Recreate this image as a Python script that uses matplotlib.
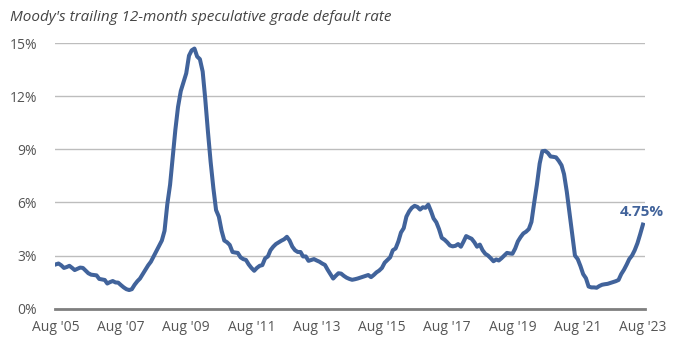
import matplotlib.pyplot as plt
import pandas as pd

# Moody's trailing 12-month speculative grade default rate (%), monthly from Aug 2005
default_rate = [
    2.50, 2.55, 2.45, 2.30, 2.35,                                      # 2005 Aug-Dec
    2.42, 2.30, 2.18, 2.25, 2.32, 2.30, 2.15, 2.00, 1.92, 1.90, 1.88, 1.68,  # 2006
    1.65, 1.62, 1.42, 1.50, 1.56, 1.48, 1.47, 1.33, 1.20, 1.10, 1.05, 1.10,  # 2007
    1.35, 1.55, 1.70, 1.95, 2.20, 2.45, 2.65, 2.95, 3.25, 3.55, 3.85, 4.40,  # 2008
    5.90, 7.00, 8.50, 10.1, 11.4, 12.3, 12.8, 13.3, 14.3, 14.6, 14.7, 14.25,  # 2009
    14.1, 13.4, 11.9, 10.0, 8.30, 6.80, 5.57, 5.20, 4.40, 3.85, 3.75, 3.60,  # 2010
    3.20, 3.17, 3.15, 2.90, 2.80, 2.75, 2.50, 2.30, 2.14, 2.30, 2.42, 2.46,  # 2011
    2.84, 2.95, 3.30, 3.50, 3.65, 3.75, 3.84, 3.92, 4.06, 3.85, 3.50, 3.30,  # 2012
    3.20, 3.20, 2.95, 2.95, 2.70, 2.75, 2.80, 2.72, 2.65, 2.55, 2.47, 2.20,  # 2013
    1.95, 1.70, 1.85, 2.00, 1.98, 1.85, 1.75, 1.68, 1.63, 1.66, 1.70, 1.75,  # 2014
    1.80, 1.85, 1.90, 1.78, 1.90, 2.05, 2.15, 2.30, 2.60, 2.75, 2.90, 3.30,  # 2015
    3.40, 3.80, 4.30, 4.55, 5.20, 5.50, 5.70, 5.81, 5.75, 5.60, 5.73, 5.70,  # 2016
    5.88, 5.50, 5.10, 4.88, 4.50, 4.00, 3.90, 3.75, 3.57, 3.52, 3.55, 3.65,  # 2017
    3.50, 3.80, 4.10, 4.02, 3.95, 3.75, 3.50, 3.62, 3.30, 3.10, 3.00, 2.85,  # 2018
    2.68, 2.78, 2.72, 2.85, 3.00, 3.15, 3.12, 3.10, 3.40, 3.80, 4.05, 4.25,  # 2019
    4.35, 4.50, 4.90, 6.00, 7.00, 8.20, 8.90, 8.92, 8.80, 8.60, 8.58, 8.55,  # 2020
    8.35, 8.10, 7.60, 6.60, 5.40, 4.20, 3.00, 2.80, 2.40, 1.95, 1.72, 1.25,  # 2021
    1.20, 1.20, 1.18, 1.28, 1.35, 1.38, 1.40, 1.45, 1.50, 1.55, 1.62, 1.95,  # 2022
    2.20, 2.50, 2.80, 3.00, 3.30, 3.70, 4.20, 4.75,                     # 2023 to Aug
]
dates = pd.date_range("2005-08-01", periods=len(default_rate), freq="MS")

tick_years = list(range(2005, 2024, 2))
tick_labels = ["Aug '%02d" % (y % 100) for y in tick_years]
y_ticks = [0, 3, 6, 9, 12, 15]
last_label = "4.75%"

line_color = "#41639B"
text_color = "#555555"

plt.rcParams["font.family"] = ["Open Sans", "DejaVu Sans"]

fig = plt.figure(figsize=(7, 3.46), dpi=100)
ax = fig.add_axes([0.079, 0.108, 0.842, 0.767])

ax.plot(dates, default_rate, color=line_color, linewidth=2.9, solid_joinstyle="round")

ax.set_ylim(0, 15)
ax.set_xlim(dates[0] - pd.Timedelta(days=5), dates[-1] + pd.Timedelta(days=20))
ax.set_yticks(y_ticks)
ax.set_yticklabels(["%d%%" % v for v in y_ticks])
ax.set_xticks([pd.Timestamp("%d-08-01" % y) for y in tick_years])
ax.set_xticklabels(tick_labels)
ax.tick_params(axis="both", length=0, labelsize=10, colors=text_color)
ax.tick_params(axis="y", pad=13)
ax.tick_params(axis="x", pad=8)

ax.grid(axis="y", color="#BDBDBD", linewidth=1)
ax.set_axisbelow(True)
for side in ["top", "right", "left"]:
    ax.spines[side].set_visible(False)
ax.spines["bottom"].set_color("#7F7F7F")
ax.spines["bottom"].set_linewidth(2)

ax.annotate(last_label, (dates[-1], default_rate[-1]), xytext=(-1, 4),
            textcoords="offset points", ha="center", va="bottom",
            color=line_color, fontsize=11, fontweight="bold")

fig.text(0.014, 0.95, "Moody's trailing 12-month speculative grade default rate",
         fontsize=11, style="italic", color="#444444", va="center")

fig.savefig("out.png", dpi=100)
